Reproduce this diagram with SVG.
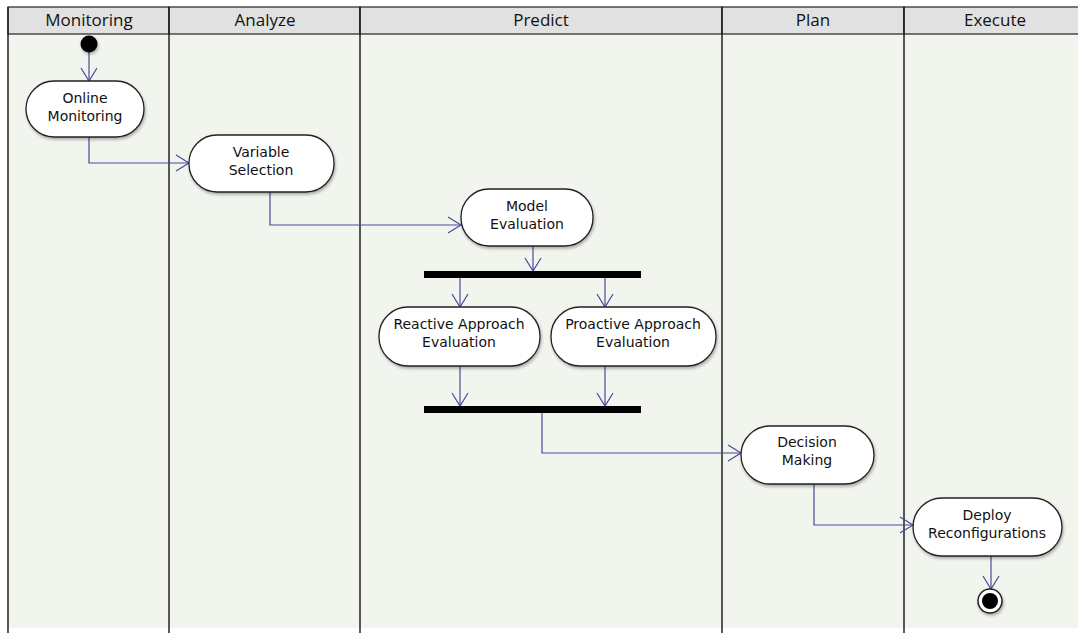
<svg xmlns="http://www.w3.org/2000/svg" width="1078" height="633" viewBox="0 0 1078 633">
<defs>
<style>
.lane{fill:#f1f5ee;}
.hdr{fill:#e1e1e1;stroke:#222;stroke-width:1.2;}
.div{stroke:#222;stroke-width:1.5;}
.ht{font-family:"Open Sans",sans-serif;font-size:17px;fill:#111;text-anchor:middle;}
.act{fill:#fff;stroke:#222;stroke-width:1.3;filter:url(#sh);}
.t{font-family:"DejaVu Sans",sans-serif;font-size:14px;fill:#111;text-anchor:middle;}
.bar{fill:#000;}
.e{fill:none;stroke:#4a4a9c;stroke-width:1.2;marker-end:url(#ah);}
</style>
<filter id="sh" x="-10%" y="-10%" width="130%" height="140%">
<feDropShadow dx="1" dy="2" stdDeviation="1.5" flood-color="#000" flood-opacity="0.3"/>
</filter>
<marker id="ah" markerWidth="18" markerHeight="20" refX="14" refY="9" orient="auto" markerUnits="userSpaceOnUse">
<path d="M1,1 L14,9 L1,17" fill="none" stroke="#4a4a9c" stroke-width="1.2"/>
</marker>
</defs>
<rect x="0" y="0" width="1078" height="633" fill="#fff"/>
<rect class="lane" x="8" y="34" width="1070" height="594"/>
<g id="headers">
<rect class="hdr" x="8" y="7" width="161" height="27"/>
<rect class="hdr" x="169" y="7" width="191" height="27"/>
<rect class="hdr" x="360" y="7" width="362" height="27"/>
<rect class="hdr" x="722" y="7" width="182" height="27"/>
<rect class="hdr" x="904" y="7" width="180" height="27"/>
<text class="ht" x="89" y="26">Monitoring</text>
<text class="ht" x="265" y="26">Analyze</text>
<text class="ht" x="541" y="26">Predict</text>
<text class="ht" x="813" y="26">Plan</text>
<text class="ht" x="995" y="26">Execute</text>
</g>
<g id="dividers">
<line class="div" x1="8" y1="7" x2="8" y2="633"/>
<line class="div" x1="169" y1="7" x2="169" y2="633"/>
<line class="div" x1="360" y1="7" x2="360" y2="633"/>
<line class="div" x1="722" y1="7" x2="722" y2="633"/>
<line class="div" x1="904" y1="7" x2="904" y2="633"/>
</g>
<g id="connectors">
<path class="e" d="M89,52 L89,81"/>
<path class="e" d="M89,137 L89,163 L189,163"/>
<path class="e" d="M270,192 L270,225 L461,225"/>
<path class="e" d="M533,246 L533,271"/>
<path class="e" d="M460,278 L460,307"/>
<path class="e" d="M605,278 L605,307"/>
<path class="e" d="M460,366 L460,406"/>
<path class="e" d="M605,366 L605,406"/>
<path class="e" d="M542,413 L542,453 L741,453"/>
<path class="e" d="M814,484 L814,525 L913,525"/>
<path class="e" d="M991,556 L991,589"/>
</g>
<g id="start"><circle cx="89" cy="44" r="8.5" fill="#000" filter="url(#sh)"/></g>
<g id="online-monitoring">
<rect class="act" x="26" y="81" width="118" height="56" rx="28"/>
<text class="t" x="85" y="103">Online</text>
<text class="t" x="85" y="121">Monitoring</text>
</g>
<g id="variable-selection">
<rect class="act" x="189" y="135" width="145" height="57" rx="28"/>
<text class="t" x="261" y="157">Variable</text>
<text class="t" x="261" y="175">Selection</text>
</g>
<g id="model-evaluation">
<rect class="act" x="461" y="189" width="132" height="57" rx="28"/>
<text class="t" x="527" y="211">Model</text>
<text class="t" x="527" y="229">Evaluation</text>
</g>
<g id="fork"><rect class="bar" x="424" y="271" width="217" height="7"/></g>
<g id="reactive">
<rect class="act" x="379" y="307" width="161" height="59" rx="29"/>
<text class="t" x="459" y="329">Reactive Approach</text>
<text class="t" x="459" y="347">Evaluation</text>
</g>
<g id="proactive">
<rect class="act" x="551" y="307" width="165" height="59" rx="29"/>
<text class="t" x="633" y="329">Proactive Approach</text>
<text class="t" x="633" y="347">Evaluation</text>
</g>
<g id="join"><rect class="bar" x="424" y="406" width="217" height="7"/></g>
<g id="decision-making">
<rect class="act" x="741" y="426" width="133" height="58" rx="29"/>
<text class="t" x="807" y="447">Decision</text>
<text class="t" x="807" y="465">Making</text>
</g>
<g id="deploy">
<rect class="act" x="913" y="498" width="149" height="58" rx="29"/>
<text class="t" x="987" y="520">Deploy</text>
<text class="t" x="987" y="538">Reconfigurations</text>
</g>
<g id="end">
<circle cx="990" cy="601" r="12" fill="#fff" stroke="#222" stroke-width="1.5" filter="url(#sh)"/>
<circle cx="990" cy="601" r="8" fill="#000"/>
</g>
</svg>
